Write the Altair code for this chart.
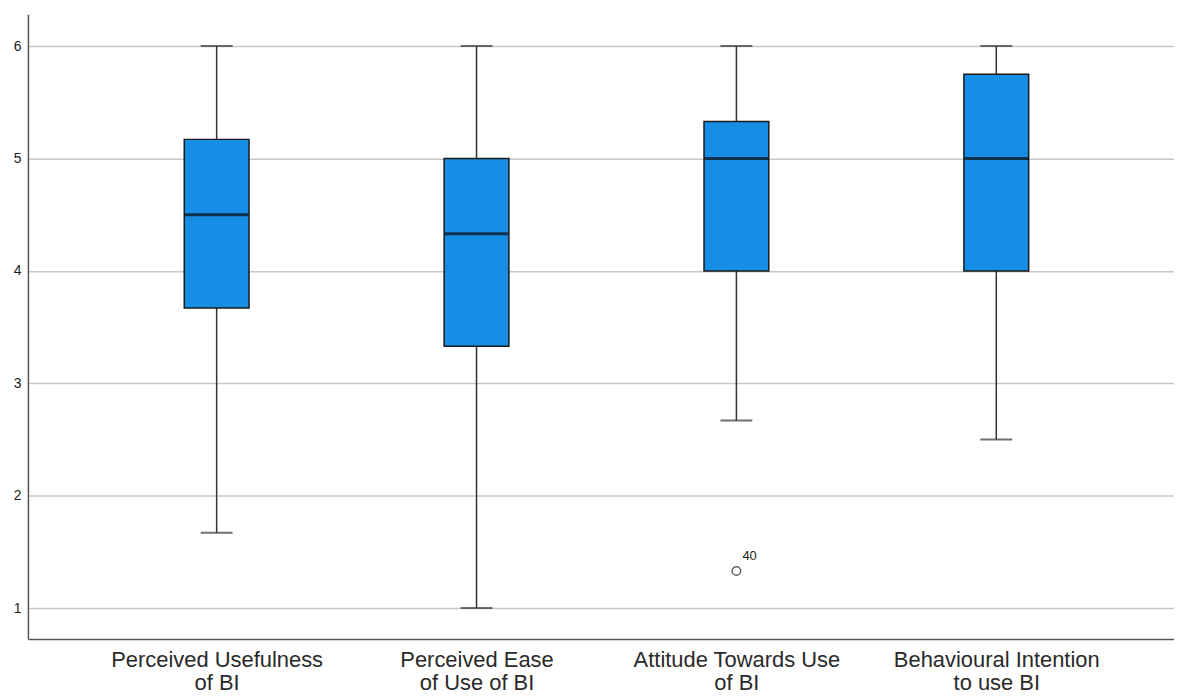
import altair as alt
import pandas as pd

categories = [
    "Perceived Usefulness|of BI",
    "Perceived Ease|of Use of BI",
    "Attitude Towards Use|of BI",
    "Behavioural Intention|to use BI",
]
whisker_low = [1.67, 1.0, 2.67, 2.5]
q1 = [3.67, 3.33, 4.0, 4.0]
median = [4.5, 4.33, 5.0, 5.0]
q3 = [5.17, 5.0, 5.33, 5.75]
whisker_high = [6.0, 6.0, 6.0, 6.0]

outlier_cat = ["Attitude Towards Use|of BI"]
outlier_val = [1.33]
outlier_lbl = ["40"]

df = pd.DataFrame({
    "cat": categories, "lo": whisker_low, "q1": q1, "med": median,
    "q3": q3, "hi": whisker_high,
})
odf = pd.DataFrame({"cat": outlier_cat, "val": outlier_val, "lbl": outlier_lbl})

FONT = "Liberation Sans"
xenc = alt.X("cat:N", sort=categories,
             scale=alt.Scale(type="point", padding=0.705, align=0.515),
             axis=alt.Axis(title=None, labelExpr="split(datum.label, '|')",
                           labelFontSize=22, labelColor="#2a2a2a", labelFont=FONT,
                           labelAngle=0, ticks=False, labelPadding=11,
                           labelLimit=0, labelOverlap=False,
                           labelLineHeight=23, domainColor="#555555",
                           domainWidth=1.5, grid=False))
yscale = alt.Scale(domain=[0.725, 6.284], nice=False, zero=False)
yaxis = alt.Axis(title=None, values=[1, 2, 3, 4, 5, 6], ticks=False,
                 labelFontSize=14, labelColor="#222222", labelFont=FONT,
                 labelPadding=7, domainColor="#555555", domainWidth=1.5,
                 gridColor="#c8c8c8", gridWidth=1.5, format="d")

base = alt.Chart(df)

rule = base.mark_rule(color="#333333", strokeWidth=1.5).encode(
    x=xenc, y=alt.Y("lo:Q", scale=yscale, axis=yaxis), y2="hi:Q")
caps_lo = base.mark_tick(color="#333333", size=32, thickness=2).encode(
    x=xenc, y=alt.Y("lo:Q", scale=yscale))
caps_hi = base.mark_tick(color="#333333", size=32, thickness=2).encode(
    x=xenc, y=alt.Y("hi:Q", scale=yscale))
box = base.mark_bar(size=65, color="#168ee6", stroke="#1a1a1a",
                    strokeWidth=1.5).encode(
    x=xenc, y=alt.Y("q1:Q", scale=yscale), y2="q3:Q")
med = base.mark_tick(color="#0a0a0a", size=64, thickness=3).encode(
    x=xenc, y=alt.Y("med:Q", scale=yscale))

pts = alt.Chart(odf).mark_point(shape="circle", filled=False, color="#222222",
                                size=75, strokeWidth=1.5).encode(
    x=xenc, y=alt.Y("val:Q", scale=yscale))
lbl = alt.Chart(odf).mark_text(font=FONT, fontSize=13, color="#222222",
                               align="left", dx=6, dy=-15).encode(
    x=xenc, y=alt.Y("val:Q", scale=yscale), text="lbl:N")

chart = alt.layer(rule, caps_lo, caps_hi, box, med, pts, lbl).properties(
    width=1150, height=627, background="white",
    autosize=alt.AutoSizeParams(type="none"),
    padding={"left": 20, "top": 5, "right": 0, "bottom": 56},
).configure_view(strokeWidth=0, stroke="transparent")

chart.save("out.html", embed_options={"renderer": "svg", "actions": False})
